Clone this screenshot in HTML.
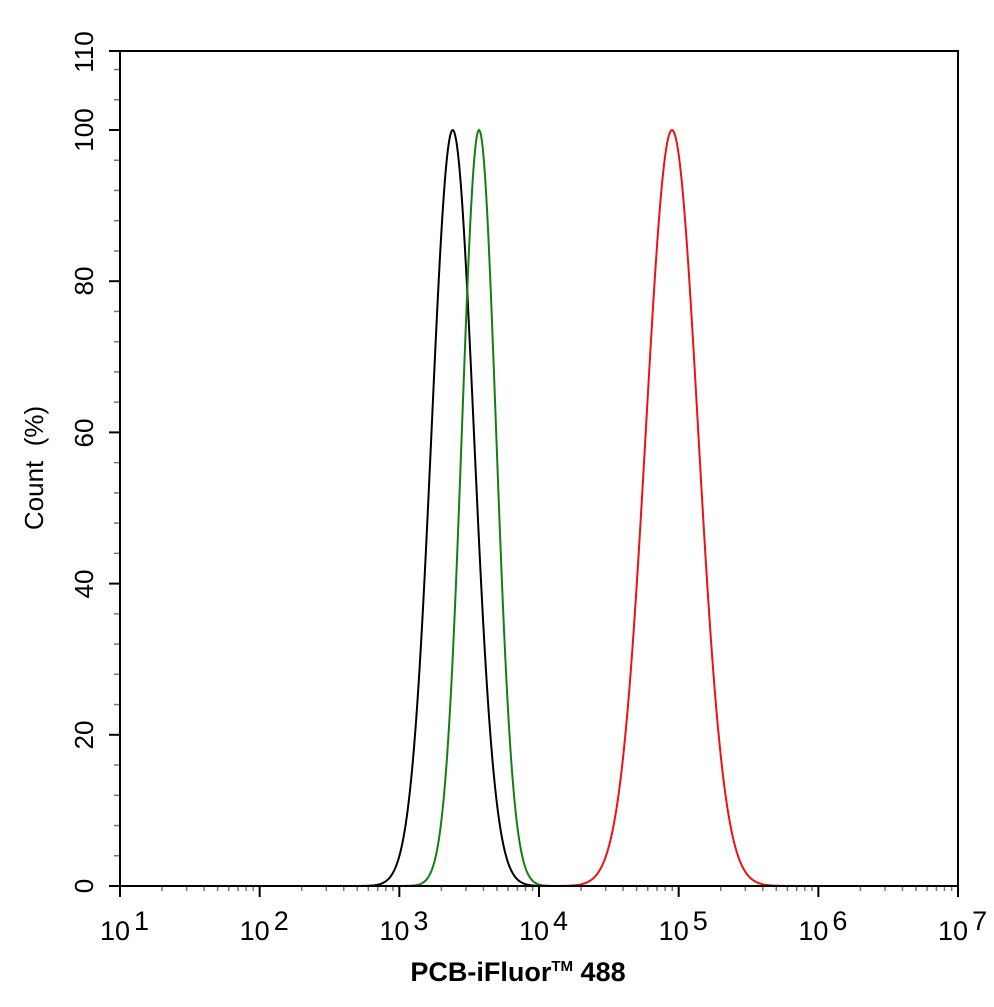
<!DOCTYPE html>
<html><head><meta charset="utf-8"><style>
body{margin:0;background:#fff;}
svg text{font-family:"Liberation Sans",Arial,sans-serif;}
</style></head><body>
<svg id="s" width="994" height="1002" viewBox="0 0 994 1002" xmlns="http://www.w3.org/2000/svg">
<rect width="994" height="1002" fill="#fff"/>
<g id="ticks" stroke="#000"></g>
<path id="pk" fill="none" stroke="#000" stroke-width="2"/>
<path id="pg" fill="none" stroke="#118011" stroke-width="2"/>
<path id="pr" fill="none" stroke="#ee1111" stroke-width="2"/>
<rect x="120" y="51" width="838" height="835" fill="none" stroke="#000" stroke-width="2"/>
<line x1="109" y1="51" x2="120" y2="51" stroke="#000" stroke-width="2"/>
<line x1="109" y1="886" x2="120" y2="886" stroke="#000" stroke-width="2"/>
<g font-size="26" text-anchor="middle" fill="#000">
<text transform="translate(93,886) rotate(-90)">0</text>
<text transform="translate(93,735) rotate(-90)">20</text>
<text transform="translate(93,584) rotate(-90)">40</text>
<text transform="translate(93,433) rotate(-90)">60</text>
<text transform="translate(93,281) rotate(-90)">80</text>
<text transform="translate(93,130) rotate(-90)">100</text>
<text transform="translate(93,52) rotate(-90)">110</text>
<text transform="translate(43,468) rotate(-90)" xml:space="preserve">Count  (%)</text>
</g>
<g font-size="27" fill="#000" id="xl"></g>
<text x="518" y="981" font-size="27" font-weight="bold" text-anchor="middle">PCB-iFluor<tspan font-size="15" dy="-10">TM</tspan><tspan dy="10"> 488</tspan></text>
</svg>
<script>
var ns="http://www.w3.org/2000/svg",t=document.getElementById('ticks');
function ln(x1,y1,x2,y2,w,c){var l=document.createElementNS(ns,'line');l.setAttribute('x1',x1);l.setAttribute('y1',y1);l.setAttribute('x2',x2);l.setAttribute('y2',y2);l.setAttribute('stroke-width',w);if(c)l.setAttribute('stroke',c);t.appendChild(l);}
var d=139.67;
for(var i=0;i<=6;i++){var x=120+i*d;ln(x,886,x,897,2);
 if(i<6)for(var k=2;k<10;k++){var xx=x+Math.log10(k)*d;ln(xx,886,xx,891,1.5,'#777');}
 var g=document.getElementById('xl');var tx=document.createElementNS(ns,'text');tx.setAttribute('x',x-20);tx.setAttribute('y',940);tx.innerHTML='10<tspan dx="4" dy="-10">'+(i+1)+'</tspan>';g.appendChild(tx);}
for(var v=0;v<=108;v+=4){var y=886-v*7.56;if(v%20==0)ln(109,y,120,y,2);else ln(114,y,120,y,1.5,'#777');}
function curve(id,mu,sg){var p='';for(var x=120;x<=958;x+=1){var v=100*Math.exp(-Math.pow(x-mu,2)/(2*sg*sg));p+=(x==120?'M':'L')+x+','+(886-v*7.56).toFixed(2);}document.getElementById(id).setAttribute('d',p);}
curve('pk',452.7,21);curve('pg',479,17);curve('pr',672,26);
</script>
</body></html>
